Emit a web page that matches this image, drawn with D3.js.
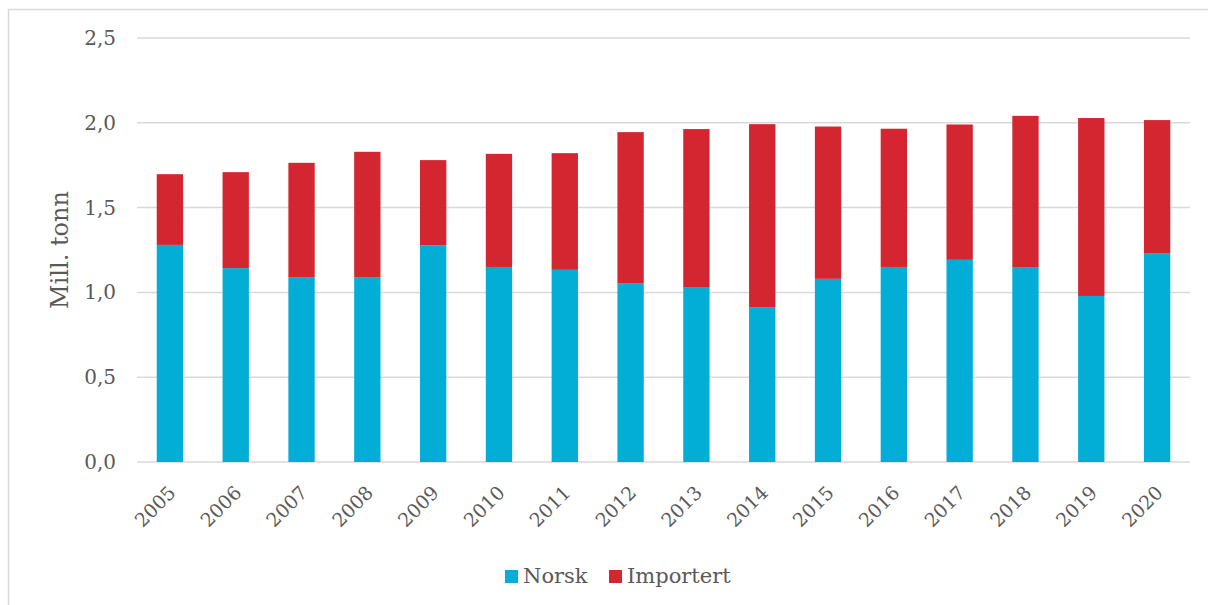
<!DOCTYPE html>
<html>
<head>
<meta charset="utf-8">
<script src="https://cdn.jsdelivr.net/npm/d3@7"></script>
<style>
  body { margin: 0; background: #fff; }
  svg text { font-family: "DejaVu Serif", Georgia, serif; fill: #595959; }
</style>
</head>
<body>
<div id="chart"></div>
<script>
// data (million tonnes)
var years = ["2005","2006","2007","2008","2009","2010","2011","2012","2013","2014","2015","2016","2017","2018","2019","2020"];
var norsk = [1.28, 1.143, 1.09, 1.09, 1.278, 1.15, 1.133, 1.052, 1.028, 0.913, 1.08, 1.15, 1.192, 1.146, 0.979, 1.229];
var totals = [1.697, 1.709, 1.764, 1.829, 1.78, 1.817, 1.821, 1.945, 1.963, 1.992, 1.978, 1.965, 1.99, 2.041, 2.028, 2.016];
var importert = totals.map(function(t, i){ return +(t - norsk[i]).toFixed(3); });
var yTicks = [0, 0.5, 1.0, 1.5, 2.0, 2.5];
var seriesNames = ["Norsk", "Importert"];
var colors = ["#02AED6", "#D32630"];

var W = 1208, H = 605;
var margin = {left: 137, right: 18, top: 38, bottom: 143};

var svg = d3.select("#chart").append("svg")
	.attr("width", W)
	.attr("height", H);

// outer frame (top and left edges visible)
svg.append("path")
	.attr("d", "M8.5,605 V9.5 H1208")
	.attr("fill", "none")
	.attr("stroke", "#d9d9d9")
	.attr("stroke-width", 1.5);

var x = d3.scaleBand()
	.domain(years)
	.range([margin.left, W - margin.right])
	.paddingInner(0.6)
	.paddingOuter(0.3);

var y = d3.scaleLinear()
	.domain([0, 2.5])
	.range([H - margin.bottom, margin.top]);

// gridlines
svg.append("g").selectAll("line")
	.data(yTicks)
  .enter().append("line")
	.attr("x1", margin.left)
	.attr("x2", W - margin.right)
	.attr("y1", function(d){ return y(d); })
	.attr("y2", function(d){ return y(d); })
	.attr("stroke", "#d9d9d9")
	.attr("stroke-width", 1.5);

// stacked bars
var rows = years.map(function(yr, i){ return {year: yr, Norsk: norsk[i], Importert: importert[i]}; });
var stack = d3.stack().keys(seriesNames)(rows);

svg.append("g").selectAll("g")
	.data(stack)
  .enter().append("g")
	.attr("fill", function(d, i){ return colors[i]; })
  .selectAll("rect")
	.data(function(d){ return d; })
  .enter().append("rect")
	.attr("x", function(d){ return x(d.data.year); })
	.attr("width", x.bandwidth())
	.attr("y", function(d){ return y(d[1]); })
	.attr("height", function(d){ return y(d[0]) - y(d[1]); });

// y axis labels
var fmt = function(d){ return d3.format(".1f")(d).replace(".", ","); };
var yAxis = svg.append("g")
	.attr("transform", "translate(" + margin.left + ",0)")
	.call(d3.axisLeft(y).tickValues(yTicks).tickFormat(fmt).tickSize(0).tickPadding(21));
yAxis.select(".domain").remove();
yAxis.selectAll("text")
	.style("font-size", "20px")
	.style("font-family", null)
	.attr("fill", null);

// x axis labels
var xAxis = svg.append("g")
	.attr("transform", "translate(0," + y(0) + ")")
	.call(d3.axisBottom(x).tickSize(0));
xAxis.select(".domain").remove();
xAxis.selectAll("text")
	.style("font-size", "19px")
	.attr("fill", null)
	.attr("text-anchor", "end")
	.attr("dy", null)
	.attr("y", 0)
	.attr("transform", "translate(7,32) rotate(-45)");
xAxis.selectAll("text").style("font-family", null);

// y axis title
svg.append("text")
	.attr("transform", "translate(68,250) rotate(-90)")
	.attr("text-anchor", "middle")
	.style("font-size", "24px")
	.text("Mill. tonn");

// legend
var legend = svg.append("g").attr("transform", "translate(505,0)");
var lx = [0, 104];
seriesNames.forEach(function(name, i){
	legend.append("rect")
		.attr("x", lx[i])
		.attr("y", 570)
		.attr("width", 13)
		.attr("height", 13)
		.attr("fill", colors[i]);
	legend.append("text")
		.attr("x", lx[i] + 18)
		.attr("y", 583)
		.style("font-size", "21px")
		.text(name);
});
</script>
</body>
</html>
